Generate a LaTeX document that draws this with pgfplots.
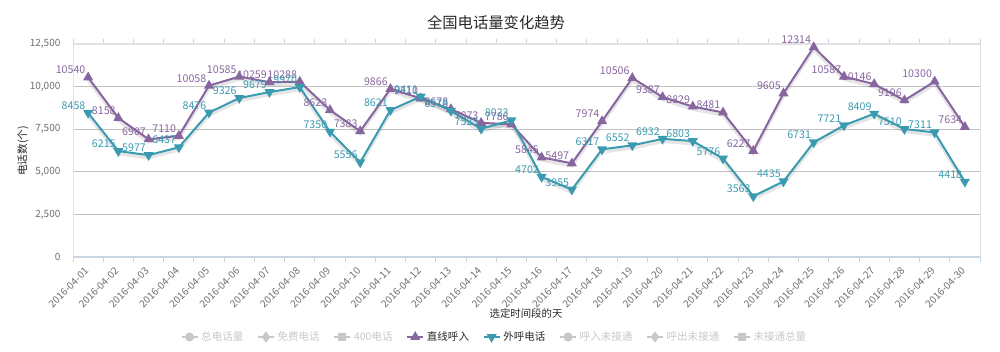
\documentclass[border=0pt]{standalone}
\usepackage{fontspec}
\setmainfont{Noto Sans CJK SC}
\usepackage{pgfplots}
\pgfplotsset{compat=1.18}
\usepackage{pgfplotstable}
\definecolor{cpur}{RGB}{135,102,160}
\definecolor{cteal}{RGB}{58,154,176}
\definecolor{cgrid}{RGB}{195,195,195}
\definecolor{cframe}{RGB}{225,225,225}
\definecolor{cbase}{RGB}{200,214,228}
\definecolor{ctick}{RGB}{110,110,110}
\definecolor{cdis}{RGB}{200,200,200}
\definecolor{ctext}{RGB}{40,40,40}

\pgfplotstableread{
x pur teal
0 10540 8458
1 8158 6215
2 6907 5977
3 7110 6437
4 10058 8476
5 10585 9326
6 10259 9679
7 10288 9970
8 8623 7350
9 7383 5556
10 9866 8621
11 9310 9411
12 8678 8578
13 7873 7523
14 7786 8023
15 5845 4702
16 5497 3955
17 7974 6317
18 10506 6552
19 9387 6932
20 8829 6803
21 8481 5776
22 6227 3563
23 9605 4435
24 12314 6731
25 10587 7721
26 10146 8409
27 9196 7510
28 10300 7311
29 7634 4418
}\data

\begin{document}
\begin{tikzpicture}
\begin{axis}[
  at={(0,0)}, anchor=south west, scale only axis,
  width=680.25pt, height=159.75pt,
  xmin=-0.5, xmax=29.5, ymin=0, ymax=12500,
  axis line style={draw=none},
  xtick={0,...,29},
  xticklabels={2016-04-01,2016-04-02,2016-04-03,2016-04-04,2016-04-05,2016-04-06,2016-04-07,2016-04-08,2016-04-09,2016-04-10,2016-04-11,2016-04-12,2016-04-13,2016-04-14,2016-04-15,2016-04-16,2016-04-17,2016-04-18,2016-04-19,2016-04-20,2016-04-21,2016-04-22,2016-04-23,2016-04-24,2016-04-25,2016-04-26,2016-04-27,2016-04-28,2016-04-29,2016-04-30},
  major x tick style={draw=none},
  minor xtick={-0.5,0.5,...,29.5},
  minor x tick style={draw=cbase, line width=0.75pt},
  tick align=outside,
  minor tick length=3.75pt,
  x tick label style={yshift=-5pt, xshift=-1pt, rotate=45, anchor=east, font=\fontsize{7.5}{8}\selectfont, text=ctick, inner sep=0pt},
  ytick={0,2500,5000,7500,10000,12500},
  major y tick style={draw=none},
  ymajorgrids, grid style={cgrid, line width=0.75pt},
  scaled y ticks=false,
  y tick label style={font=\fontsize{7.5}{9}\selectfont, text=ctick, /pgf/number format/1000 sep={,}, inner sep=0pt, xshift=-5pt},
  /pgf/number format/assume math mode=true,
  clip=false,
  legend columns=8,
  legend style={at={(0.465,-0.3756)}, anchor=center, draw=none, fill=none,
    font=\fontsize{7.9}{9}\selectfont, text=ctext,
    /tikz/every even column/.append style={column sep=8.2pt}},
  legend image code/.code={\draw[mark repeat=2,mark phase=2,#1] plot coordinates {(0pt,0pt) (6pt,0pt) (12pt,0pt)};},
]
% frame lines
\draw[cframe, line width=0.75pt] (rel axis cs:1,0) -- (rel axis cs:1,1);
\draw[cframe, line width=0.75pt] (rel axis cs:0,0) -- (rel axis cs:0,1);
\draw[cframe, line width=1.2pt] (rel axis cs:0,1) -- (rel axis cs:1,1);
\draw[cbase, line width=1pt] (rel axis cs:0,0) -- (rel axis cs:1,0);

\addlegendimage{cdis, line width=1.5pt, mark=*, mark size=2.6pt}
\addlegendentry{\textcolor{cdis}{总电话量}}
\addlegendimage{cdis, line width=1.5pt, mark=diamond*, mark size=3pt}
\addlegendentry{\textcolor{cdis}{免费电话}}
\addlegendimage{cdis, line width=1.5pt, mark=square*, mark size=2.2pt}
\addlegendentry{\textcolor{cdis}{400电话}}

% shadows
\addplot[black, opacity=0.10, line width=2.4pt, yshift=-2pt, forget plot] table[x=x,y=pur]{\data};
\addplot[black, opacity=0.10, line width=2.4pt, yshift=-2pt, forget plot] table[x=x,y=teal]{\data};

\addplot[cpur, line width=1.5pt, mark=triangle*, mark size=2.9pt,
  point meta=explicit symbolic, nodes near coords,
  nodes near coords style={anchor=south east, font=\fontsize{8}{9}\selectfont, text=cpur, inner sep=0.8pt, xshift=-0.5pt, yshift=1pt}]
  table[x=x,y=pur,meta=pur]{\data};
\addlegendentry{直线呼入}
\addplot[cteal, line width=1.5pt, mark=triangle*, mark options={rotate=180}, mark size=2.9pt,
  point meta=explicit symbolic, nodes near coords,
  nodes near coords style={anchor=south east, font=\fontsize{8}{9}\selectfont, text=cteal, inner sep=0.8pt, xshift=-0.5pt, yshift=1pt}]
  table[x=x,y=teal,meta=teal]{\data};
\addlegendentry{外呼电话}

\addlegendimage{cdis, line width=1.5pt, mark=*, mark size=2.6pt}
\addlegendentry{\textcolor{cdis}{呼入未接通}}
\addlegendimage{cdis, line width=1.5pt, mark=diamond*, mark size=3pt}
\addlegendentry{\textcolor{cdis}{呼出未接通}}
\addlegendimage{cdis, line width=1.5pt, mark=square*, mark size=2.2pt}
\addlegendentry{\textcolor{cdis}{未接通总量}}
\end{axis}
\node[font=\fontsize{11.5}{13}\selectfont, text=ctext] at (317.25pt,175.5pt) {全国电话量变化趋势};
\node[font=\fontsize{8}{9}\selectfont, text=ctext, rotate=90] at (-37.5pt,79.5pt) {电话数(个)};
\node[font=\fontsize{7.8}{9}\selectfont, text=ctext] at (339.75pt,-42.75pt) {选定时间段的天};
\path[use as bounding box] (-54.75pt,-71.25pt) rectangle (695.25pt,192.75pt);
\end{tikzpicture}
\end{document}
